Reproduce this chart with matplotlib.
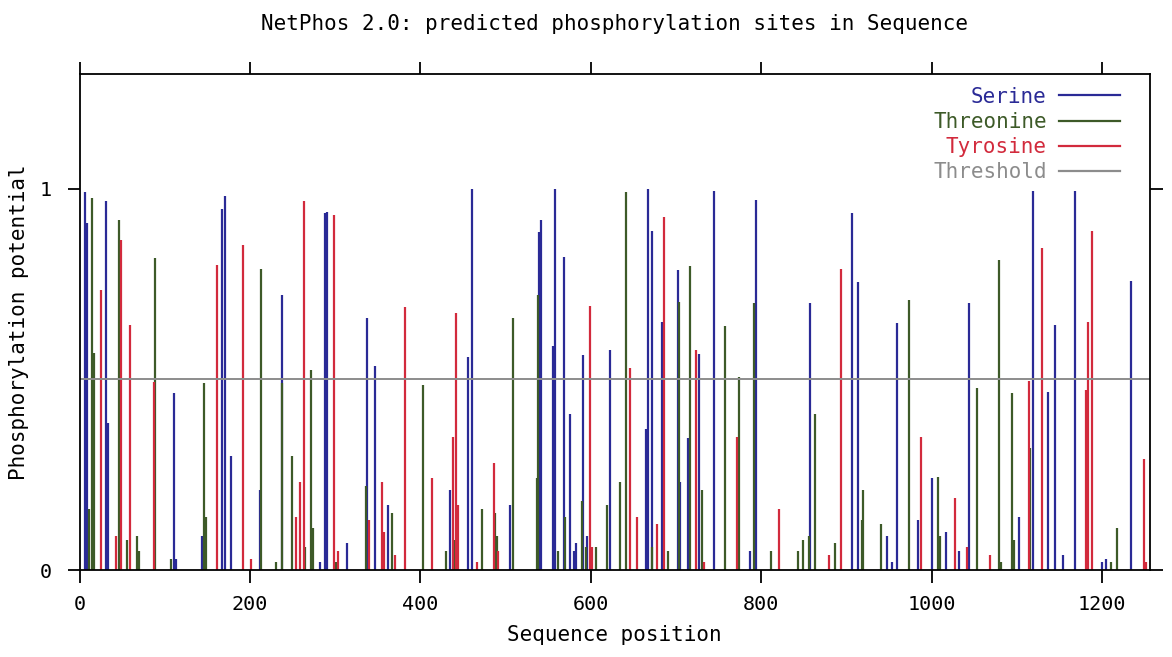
import matplotlib
matplotlib.use("Agg")
import matplotlib.pyplot as plt
from matplotlib.lines import Line2D

OUTPUT_FILE = "out.png"

# sequence positions / predicted potentials
serine_pos = [6, 8, 31, 33, 111, 113, 144, 167, 170, 178, 212, 237, 282, 288, 290,
              314, 337, 347, 362, 435, 456, 460, 505, 539, 542, 556, 558, 568, 575,
              580, 583, 591, 596, 623, 665, 667, 672, 683, 702, 705, 714, 727, 745,
              787, 794, 857, 907, 913, 948, 953, 959, 984, 1000, 1017, 1032, 1044,
              1103, 1119, 1137, 1145, 1154, 1168, 1200, 1205, 1234]
serine_val = [0.99, 0.91, 0.967, 0.385, 0.464, 0.03, 0.09, 0.947, 0.98, 0.30, 0.21,
              0.72, 0.02, 0.936, 0.94, 0.07, 0.662, 0.534, 0.17, 0.21, 0.558, 1.0,
              0.17, 0.886, 0.918, 0.588, 1.0, 0.82, 0.41, 0.05, 0.07, 0.564, 0.09,
              0.577, 0.37, 1.0, 0.89, 0.65, 0.787, 0.23, 0.346, 0.566, 0.993, 0.05,
              0.97, 0.70, 0.936, 0.754, 0.09, 0.02, 0.647, 0.13, 0.24, 0.10, 0.05,
              0.70, 0.138, 0.993, 0.466, 0.643, 0.04, 0.993, 0.02, 0.03, 0.758]

threonine_pos = [11, 15, 17, 46, 56, 67, 70, 88, 107, 146, 148, 213, 230, 238, 249,
                 264, 271, 274, 301, 336, 367, 403, 430, 440, 472, 488, 490, 509,
                 537, 538, 561, 570, 590, 594, 606, 619, 634, 641, 672, 690, 704,
                 716, 730, 757, 774, 791, 811, 843, 849, 856, 863, 887, 918, 920,
                 941, 974, 1007, 1010, 1053, 1079, 1082, 1094, 1097, 1115, 1210, 1217]
threonine_val = [0.16, 0.976, 0.57, 0.917, 0.08, 0.09, 0.05, 0.818, 0.03, 0.49, 0.14,
                 0.79, 0.02, 0.49, 0.30, 0.06, 0.525, 0.11, 0.02, 0.22, 0.15, 0.486,
                 0.05, 0.08, 0.16, 0.15, 0.09, 0.662, 0.24, 0.72, 0.05, 0.14, 0.18,
                 0.06, 0.06, 0.17, 0.23, 0.99, 0.06, 0.05, 0.704, 0.796, 0.21, 0.64,
                 0.507, 0.70, 0.05, 0.05, 0.08, 0.09, 0.41, 0.07, 0.13, 0.21, 0.12,
                 0.707, 0.245, 0.09, 0.476, 0.813, 0.02, 0.464, 0.08, 0.32, 0.02, 0.11]

tyrosine_pos = [25, 43, 48, 59, 87, 161, 192, 201, 254, 259, 263, 298, 303, 340, 355,
                357, 370, 382, 413, 438, 442, 444, 466, 486, 491, 599, 601, 646, 654,
                678, 686, 723, 733, 772, 821, 880, 894, 987, 1027, 1042, 1068, 1114,
                1129, 1181, 1184, 1188, 1249, 1252]
tyrosine_val = [0.735, 0.09, 0.866, 0.643, 0.494, 0.80, 0.853, 0.03, 0.14, 0.23, 0.967,
                0.93, 0.05, 0.13, 0.23, 0.10, 0.04, 0.69, 0.24, 0.35, 0.675, 0.17,
                0.02, 0.28, 0.05, 0.693, 0.06, 0.53, 0.14, 0.12, 0.926, 0.577, 0.02,
                0.35, 0.16, 0.04, 0.79, 0.35, 0.19, 0.06, 0.04, 0.496, 0.844, 0.472,
                0.65, 0.888, 0.29, 0.02]

threshold = 0.5
seq_len = 1256
x_ticks = [0, 200, 400, 600, 800, 1000, 1200]

c_ser = "#2a2a96"
c_thr = "#3d5a28"
c_tyr = "#d22a3c"
c_thresh = "#8c8c8c"

plt.rcParams["font.family"] = ["DejaVu Sans Mono", "DejaVu Sans"]

fig = plt.figure(figsize=(11.72, 6.57), dpi=100)
ax = fig.add_axes([0.068, 0.1324, 0.913, 0.7546])

ax.vlines(serine_pos, 0, serine_val, colors=c_ser, linewidth=1.6)
ax.vlines(threonine_pos, 0, threonine_val, colors=c_thr, linewidth=1.6)
ax.vlines(tyrosine_pos, 0, tyrosine_val, colors=c_tyr, linewidth=1.6)
ax.axhline(threshold, color=c_thresh, linewidth=1.4)

ax.set_xlim(0, seq_len)
ax.set_ylim(0, 1.3)
ax.set_xticks(x_ticks)
ax.set_yticks([0, 1])

for s in ax.spines.values():
    s.set_linewidth(1.3)
    s.set_color("black")

ax.tick_params(axis="both", direction="out", length=9, width=1.3, labelsize=14.5,
               top=True, right=True)
ax.tick_params(axis="x", pad=9)
ax.tick_params(axis="y", pad=11)

ax.set_xlabel("Sequence position", fontsize=15, labelpad=8)
ax.set_ylabel("Phosphorylation potential", fontsize=15, labelpad=8)
ax.set_title("NetPhos 2.0: predicted phosphorylation sites in Sequence",
             fontsize=15, pad=32)

handles = [Line2D([], [], color=c, linewidth=1.6) for c in (c_ser, c_thr, c_tyr, c_thresh)]
labels = ["Serine", "Threonine", "Tyrosine", "Threshold"]
leg = ax.legend(handles, labels, loc="upper right", bbox_to_anchor=(0.972, 0.975),
                frameon=False, markerfirst=False, fontsize=15, handlelength=2.9,
                handletextpad=0.6, labelspacing=0.25, borderpad=0, borderaxespad=0)
for t, c in zip(leg.get_texts(), (c_ser, c_thr, c_tyr, c_thresh)):
    t.set_color(c)

fig.savefig(OUTPUT_FILE, dpi=100)
plt.close(fig)
